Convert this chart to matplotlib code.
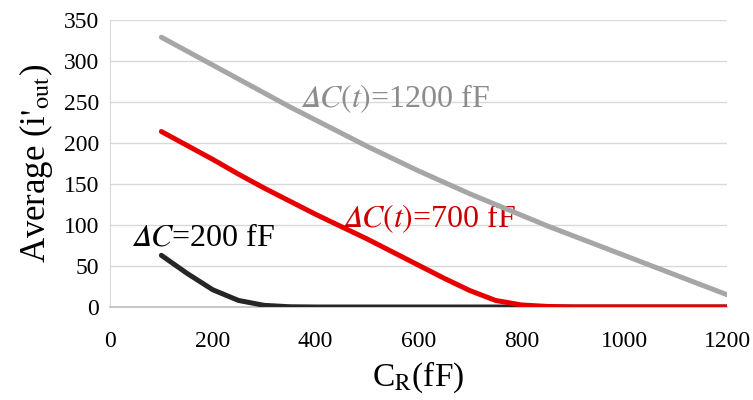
import matplotlib
matplotlib.use("Agg")
import matplotlib.pyplot as plt

plt.rcParams['font.family'] = ['Liberation Serif', 'DejaVu Serif']
plt.rcParams['mathtext.fontset'] = 'stix'

cr = [100, 150, 200, 250, 300, 350, 400, 450, 500, 550, 600, 650,
      700, 750, 800, 850, 900, 950, 1000, 1050, 1100, 1150, 1200]
dc1200 = [329, 312, 295, 278, 261, 244, 228, 212, 196, 181, 166, 152,
          138, 125, 112, 99, 87, 75, 63, 51, 39, 27, 15]
dc700 = [214, 197, 180, 162, 145, 129, 113, 98, 83, 67, 51, 35,
         20, 8, 2.5, 0.7, 0, 0, 0, 0, 0, 0, 0]
dc200 = [63, 41, 21, 8, 2, 0.3, 0, 0, 0, 0, 0, 0,
         0, 0, 0, 0, 0, 0, 0, 0, 0, 0, 0]

xticks = [0, 200, 400, 600, 800, 1000, 1200]
yticks = [0, 50, 100, 150, 200, 250, 300, 350]

fig = plt.figure(figsize=(7.53, 4.0), dpi=100)
ax = fig.add_axes([0.146, 0.2325, 0.8195, 0.7175])

ax.plot(cr, dc200, color='#262626', lw=3.6, solid_capstyle='round', zorder=3)
ax.plot(cr, dc700, color='#e60000', lw=3.6, solid_capstyle='round', zorder=4)
ax.plot(cr, dc1200, color='#a6a6a6', lw=3.6, solid_capstyle='round', zorder=5)

ax.set_xlim(0, 1200)
ax.set_ylim(0, 350)
ax.set_xticks(xticks)
ax.set_yticks(yticks)
ax.tick_params(axis='y', length=0, labelsize=17, pad=8, colors='black')
ax.tick_params(axis='x', length=0, labelsize=17, pad=17, colors='black')
ax.grid(axis='y', color='#d9d9d9', lw=1)
ax.set_axisbelow(True)
for s in ['top', 'right']:
    ax.spines[s].set_visible(False)
ax.spines['left'].set_color('#d9d9d9')
ax.spines['bottom'].set_color('#bfbfbf')
ax.spines['bottom'].set_linewidth(1.2)

ax.set_xlabel(r"C$_\mathrm{R}$(fF)", fontsize=24, labelpad=6)
ax.set_ylabel(r"Average (i$'_\mathrm{out}$)", fontsize=25, labelpad=6)

ax.text(41, 84, "$𝛥C$=200 fF", fontsize=23, color='#000000',
        va='center', ha='left')
ax.text(451, 108, "$𝛥C(t)$=700 fF", fontsize=23, color='#cc0000',
        va='center', ha='left')
ax.text(370, 254, "$𝛥C(t)$=1200 fF", fontsize=23, color='#8c8c8c',
        va='center', ha='left')

fig.savefig("out.png", dpi=100)
